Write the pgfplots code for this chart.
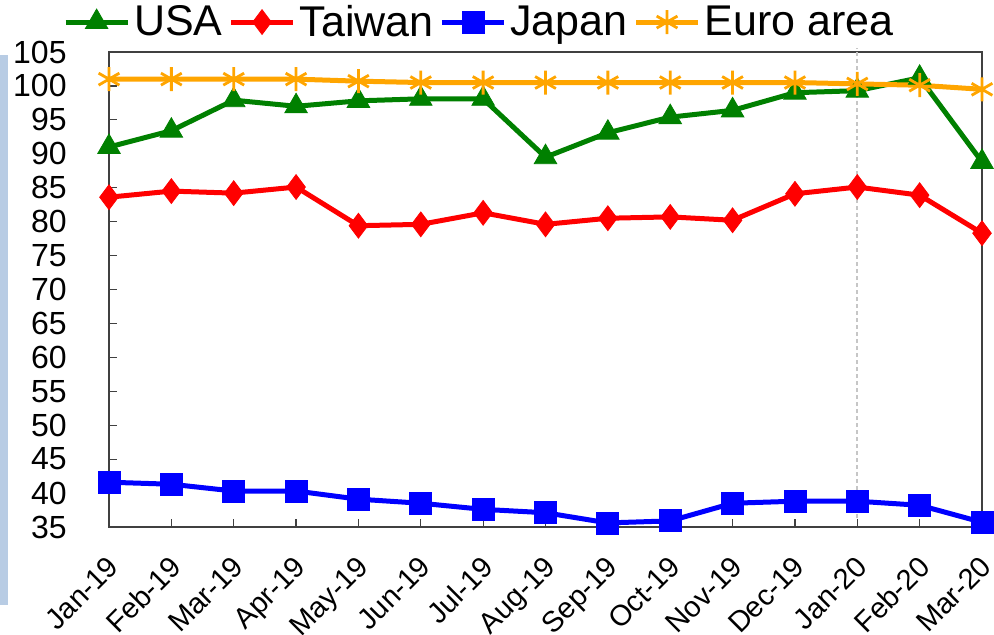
\documentclass[border=0pt]{standalone}
\usepackage{pgfplots}
\pgfplotsset{compat=1.18}
\usepackage{fontspec}
\setmainfont{Liberation Sans}
\definecolor{usagreen}{RGB}{0,128,0}
\definecolor{twred}{RGB}{255,0,0}
\definecolor{jpblue}{RGB}{0,0,255}
\definecolor{euorange}{RGB}{255,165,0}
\definecolor{sidebar}{RGB}{184,204,228}
\begin{document}
\begin{tikzpicture}
\useasboundingbox (-54.5pt,-54pt) rectangle (442.5pt,263.5pt);
% light side bar at the left edge
\fill[sidebar] (-54.5pt,-39pt) rectangle (-50.5pt,236pt);
\begin{axis}[
  scale only axis,
  width=436.5pt, height=237.5pt,
  xmin=0, xmax=14, ymin=35, ymax=105,
  ytick={35,40,...,105},
  xtick={0,...,14},
  xticklabels={Jan-19,Feb-19,Mar-19,Apr-19,May-19,Jun-19,Jul-19,Aug-19,Sep-19,Oct-19,Nov-19,Dec-19,Jan-20,Feb-20,Mar-20},
  tick align=inside,
  tick pos=left,
  major tick length=4pt,
  tick style={black!75, line width=0.6pt},
  axis line style={black!75, line width=0.7pt},
  /pgf/number format/assume math mode=true,
  yticklabel style={font=\fontsize{16}{18}\selectfont, anchor=east, inner sep=0pt, xshift=-21pt},
  xticklabel style={font=\fontsize{14.5}{16}\selectfont, inner sep=0pt, xshift=-1.5pt, yshift=-13.5pt, rotate=45, anchor=north east},
  clip=false,
  legend columns=4,
  legend style={draw=none, fill=none, at={(axis description cs:-0.053,1.063)}, anchor=west,
    font=\fontsize{21.5}{24}\selectfont, inner sep=0pt,
    /tikz/every even column/.append style={column sep=1pt}},
  legend image code/.code={\draw[mark repeat=2,mark phase=2] plot coordinates {(0pt,0pt)(15.5pt,0pt)(31pt,0pt)};},
]
% reference marker at Jan-20
\draw[gray!45, dash pattern=on 2pt off 1.5pt, line width=0.8pt] (axis cs:12,36.3) -- (axis cs:12,105.6);

\addplot[usagreen, line width=2.5pt, mark=triangle*, mark size=6.5pt, mark options={line width=0.4pt, solid}]
coordinates {(0,91.0)(1,93.4)(2,97.9)(3,97.0)(4,97.8)(5,98.1)(6,98.1)(7,89.5)(8,93.1)(9,95.4)(10,96.4)(11,99.0)(12,99.3)(13,101.2)(14,88.8)};
\addlegendentry{USA}

\addplot[twred, line width=2.5pt, mark=diamond*, mark size=6.2pt, mark options={line width=0.4pt, solid}]
coordinates {(0,83.6)(1,84.5)(2,84.2)(3,85.1)(4,79.4)(5,79.6)(6,81.3)(7,79.6)(8,80.5)(9,80.7)(10,80.2)(11,84.1)(12,85.1)(13,83.9)(14,78.3)};
\addlegendentry{Taiwan}

\addplot[jpblue, line width=2.5pt, mark=square*, mark size=5.5pt, mark options={line width=0.4pt, solid}]
coordinates {(0,41.6)(1,41.3)(2,40.3)(3,40.3)(4,39.1)(5,38.5)(6,37.6)(7,37.1)(8,35.6)(9,35.9)(10,38.5)(11,38.8)(12,38.8)(13,38.2)(14,35.7)};
\addlegendentry{Japan}

\addplot[euorange, line width=2.5pt, mark=asterisk, mark size=6pt, mark options={line width=1.4pt, solid}]
coordinates {(0,101.0)(1,101.0)(2,101.0)(3,101.0)(4,100.7)(5,100.5)(6,100.5)(7,100.5)(8,100.5)(9,100.5)(10,100.5)(11,100.5)(12,100.3)(13,100.1)(14,99.5)};
\addlegendentry{Euro area}
\end{axis}
\end{tikzpicture}
\end{document}
